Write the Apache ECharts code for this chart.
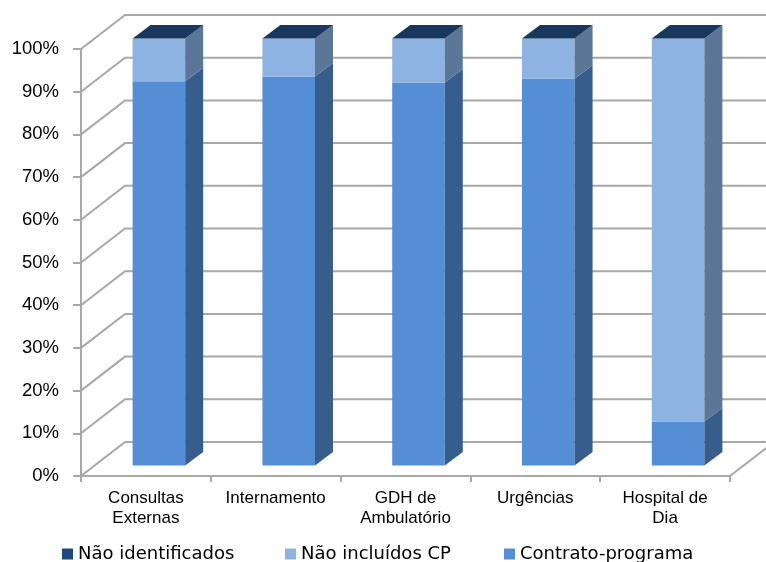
<!DOCTYPE html>
<html>
<head>
<meta charset="utf-8">
<script src="https://cdn.jsdelivr.net/npm/echarts@6/dist/echarts.min.js"></script>
<style>html,body{margin:0;padding:0;background:#fff;}#c{width:766px;height:562px;}</style>
</head>
<body>
<div id="c"></div>
<script>
const categories = ['Consultas\nExternas', 'Internamento', 'GDH de\nAmbulatório', 'Urgências', 'Hospital de\nDia'];
const contratoPrograma = [90.0, 91.1, 89.7, 90.6, 10.3];
const naoIncluidosCP = [10.0, 8.9, 10.3, 9.4, 89.7];
const naoIdentificados = [0, 0, 0, 0, 0];
const yTicks = [0, 10, 20, 30, 40, 50, 60, 70, 80, 90, 100];

// oblique projection offsets (pixels)
const WX = 44, WY = -34;       // wall depth
const FX = 13, FY = -10.5;     // bar front plane offset
const SX = 18, SY = -13.5;     // bar depth
const GRID_COLOR = '#A8A8A8';

function stackData(baseArrs, arr) {
  return arr.map((v, i) => {
    let base = 0;
    baseArrs.forEach(a => { base += a[i]; });
    return [i, base, base + v];
  });
}

function barRender(faceColor, sideColor, topColor) {
  return function (params, api) {
    const i = api.value(0), b = api.value(1), t = api.value(2);
    const pb = api.coord([i, b]);
    const pt = api.coord([i, t]);
    const bw = api.size([1, 0])[0] * 0.405;
    const xl = pb[0] - bw / 2 + FX, xr = pb[0] + bw / 2 + FX;
    const yb = pb[1] + FY, yt = pt[1] + FY;
    const children = [];
    if (yb - yt > 0.01) {
      children.push({
        type: 'rect',
        shape: { x: xl, y: yt, width: xr - xl, height: yb - yt },
        style: { fill: faceColor }
      });
      children.push({
        type: 'polygon',
        shape: { points: [[xr, yb], [xr, yt], [xr + SX, yt + SY], [xr + SX, yb + SY]] },
        style: { fill: sideColor }
      });
    }
    if (topColor) {
      children.push({
        type: 'polygon',
        shape: { points: [[xl, yt], [xr, yt], [xr + SX, yt + SY], [xl + SX, yt + SY]] },
        style: { fill: topColor }
      });
    }
    return { type: 'group', children: children };
  };
}

function wallRender(params, api) {
  const cs = params.coordSys;
  const v = api.value(1);
  const y = api.coord([0, v])[1];
  const x0 = cs.x, x1 = cs.x + cs.width;
  const children = [{
    type: 'polyline',
    shape: { points: [[x0, y], [x0 + WX, y + WY], [x1 + WX, y + WY]] },
    style: { stroke: GRID_COLOR, lineWidth: 2, fill: null }
  }];
  if (v === 0) {
    children.push({
      type: 'line',
      shape: { x1: x1, y1: y, x2: x1 + WX, y2: y + WY },
      style: { stroke: GRID_COLOR, lineWidth: 2 }
    });
  }
  return { type: 'group', children: children };
}

const legendText = { fontFamily: 'DejaVu Sans', fontSize: 18, color: '#000' };
function mkLegend(name, left) {
  return {
    data: [name], left: left, top: 545, padding: 0,
    itemWidth: 11, itemHeight: 11, itemGap: 6, icon: 'rect',
    textStyle: legendText, selectedMode: false
  };
}

const chart = echarts.init(document.getElementById('c'), null, { renderer: 'canvas' });
chart.setOption({
  animation: false,
  backgroundColor: '#fff',
  grid: { left: 81, right: 36, top: 49, bottom: 86 },
  legend: [
    mkLegend('Não identificados', 62),
    mkLegend('Não incluídos CP', 285),
    mkLegend('Contrato-programa', 504)
  ],
  xAxis: {
    type: 'category',
    data: categories,
    boundaryGap: true,
    axisLine: { show: true, lineStyle: { color: GRID_COLOR, width: 2 } },
    axisTick: { show: true, interval: 0, length: 6, lineStyle: { color: GRID_COLOR, width: 2 } },
    axisLabel: {
      interval: 0, margin: 12, color: '#000',
      fontFamily: 'Liberation Sans', fontSize: 17, lineHeight: 20
    },
    splitLine: { show: false }
  },
  yAxis: {
    type: 'value', min: 0, max: 100, interval: 10,
    axisLine: { show: true, lineStyle: { color: GRID_COLOR, width: 2 } },
    axisTick: { show: true, length: 8, lineStyle: { color: GRID_COLOR, width: 2 } },
    axisLabel: {
      formatter: '{value}%', margin: 22, color: '#000',
      fontFamily: 'Liberation Sans', fontSize: 18.5
    },
    splitLine: { show: false }
  },
  series: [
    {
      name: 'walls', type: 'custom', silent: true, z: 1,
      data: yTicks.map(v => [0, v]),
      encode: { x: 0, y: 1 },
      renderItem: wallRender
    },
    {
      name: 'Contrato-programa', type: 'custom', z: 3,
      itemStyle: { color: '#558ED5' },
      data: stackData([], contratoPrograma),
      encode: { x: 0, y: [1, 2] },
      renderItem: barRender('#558ED5', '#375D8D', null)
    },
    {
      name: 'Não incluídos CP', type: 'custom', z: 3,
      itemStyle: { color: '#8DB3E2' },
      data: stackData([contratoPrograma], naoIncluidosCP),
      encode: { x: 0, y: [1, 2] },
      renderItem: barRender('#8DB3E2', '#5B7696', null)
    },
    {
      name: 'Não identificados', type: 'custom', z: 3,
      itemStyle: { color: '#1F497D' },
      data: stackData([contratoPrograma, naoIncluidosCP], naoIdentificados),
      encode: { x: 0, y: [1, 2] },
      renderItem: barRender('#1F497D', '#17375E', '#17375E')
    }
  ]
});
</script>
</body>
</html>
